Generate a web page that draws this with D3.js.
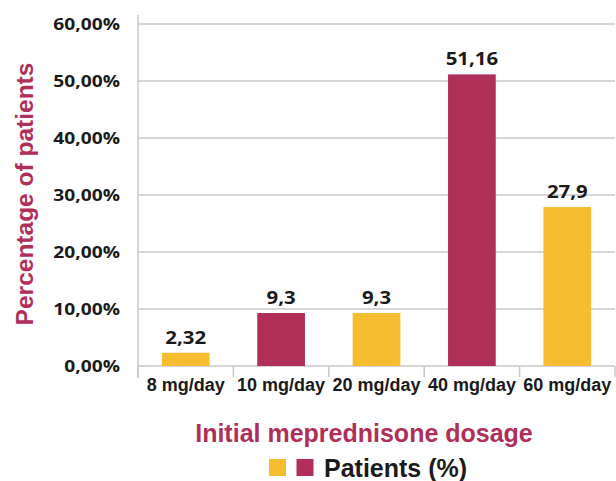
<!DOCTYPE html>
<html>
<head>
<meta charset="utf-8">
<script src="https://cdn.jsdelivr.net/npm/d3@7"></script>
<style>
  html, body { margin: 0; padding: 0; background: #fff; }
  svg { display: block; }
</style>
</head>
<body>
<svg id="chart" width="616" height="481"></svg>
<script>
// Initial meprednisone dosage vs share of patients
const categories = ["8 mg/day", "10 mg/day", "20 mg/day", "40 mg/day", "60 mg/day"];
const patientsPct = [2.32, 9.3, 9.3, 51.16, 27.9];
const barColors = ["#f5bd2f", "#b02f59", "#f5bd2f", "#b02f59", "#f5bd2f"];
const yTicks = [0, 10, 20, 30, 40, 50, 60];
const xTitle = "Initial meprednisone dosage";
const yTitle = "Percentage of patients";
const legendLabel = "Patients (%)";

const crimson = "#b02f59";
const gridColor = "#c9c9c9";

const svg = d3.select("#chart");

const locale = d3.formatLocale({ decimal: ",", thousands: ".", grouping: [3], currency: ["", ""] });
const fmtTick = v => locale.format(".2f")(v) + "%";
const fmtVal = v => String(v).replace(".", ",");

const x = d3.scaleBand().domain(categories).range([138, 615]).paddingInner(0.5).paddingOuter(0.25);
const y = d3.scaleLinear().domain([0, 60]).range([366, 24]);

// gridlines
svg.append("g").selectAll("line").data(yTicks.filter(t => t > 0)).join("line")
  .attr("x1", 138).attr("x2", 615)
  .attr("y1", d => y(d)).attr("y2", d => y(d))
  .attr("stroke", gridColor).attr("stroke-width", 1.5);

// left axis line
svg.append("line").attr("x1", 138).attr("x2", 138).attr("y1", 15).attr("y2", 378)
  .attr("stroke", gridColor).attr("stroke-width", 1.5);

// bottom axis line and category separators
svg.append("line").attr("x1", 138).attr("x2", 615).attr("y1", y(0)).attr("y2", y(0))
  .attr("stroke", gridColor).attr("stroke-width", 1.5);
const step = x.step();
const bounds = d3.range(categories.length + 1).map(i => x.range()[0] + i * step);
svg.append("g").selectAll("line").data(bounds).join("line")
  .attr("x1", d => d).attr("x2", d => d)
  .attr("y1", y(0)).attr("y2", y(0) + 11)
  .attr("stroke", gridColor).attr("stroke-width", 1.5);

// y tick labels
svg.append("g").selectAll("text").data(yTicks).join("text")
  .attr("transform", d => `translate(120,${y(d) + 6}) scale(1.2,1)`)
  .attr("text-anchor", "end")
  .attr("font-family", "'Open Sans', sans-serif").attr("font-weight", 700)
  .attr("font-size", 16).attr("fill", "#1a1a1a")
  .text(fmtTick);

// bars
svg.append("g").selectAll("rect").data(patientsPct).join("rect")
  .attr("x", (d, i) => x(categories[i]))
  .attr("width", x.bandwidth())
  .attr("y", d => y(d))
  .attr("height", d => y(0) - y(d))
  .attr("fill", (d, i) => barColors[i]);

// value labels
svg.append("g").selectAll("text").data(patientsPct).join("text")
  .attr("transform", (d, i) => `translate(${x(categories[i]) + x.bandwidth() / 2},${y(d) - 9}) scale(1.2,1)`)
  .attr("text-anchor", "middle")
  .attr("font-family", "'Open Sans', sans-serif").attr("font-weight", 700)
  .attr("font-size", 17).attr("fill", "#1a1a1a")
  .text(fmtVal);

// category labels
svg.append("g").selectAll("text").data(categories).join("text")
  .attr("x", d => x(d) + x.bandwidth() / 2)
  .attr("y", 391)
  .attr("text-anchor", "middle")
  .attr("font-family", "'Liberation Sans', Arial, sans-serif").attr("font-weight", 700)
  .attr("font-size", 18).attr("fill", "#1a1a1a")
  .text(d => d);

// y axis title
svg.append("text")
  .attr("transform", "translate(33,194) rotate(-90)")
  .attr("text-anchor", "middle")
  .attr("font-family", "'Liberation Sans', Arial, sans-serif").attr("font-weight", 700)
  .attr("font-size", 24.5).attr("fill", crimson)
  .text(yTitle);

// x axis title
svg.append("text")
  .attr("x", 364).attr("y", 442)
  .attr("text-anchor", "middle")
  .attr("font-family", "'Liberation Sans', Arial, sans-serif").attr("font-weight", 700)
  .attr("font-size", 25).attr("fill", crimson)
  .text(xTitle);

// legend
const legend = svg.append("g");
legend.selectAll("rect").data(["#f5bd2f", crimson]).join("rect")
  .attr("x", (d, i) => 269 + i * 27.5).attr("y", 459)
  .attr("width", 17).attr("height", 17)
  .attr("fill", d => d);
legend.append("text")
  .attr("x", 324).attr("y", 477)
  .attr("font-family", "'Liberation Sans', Arial, sans-serif").attr("font-weight", 700)
  .attr("font-size", 25).attr("fill", "#1a1a1a")
  .text(legendLabel);
</script>
</body>
</html>
